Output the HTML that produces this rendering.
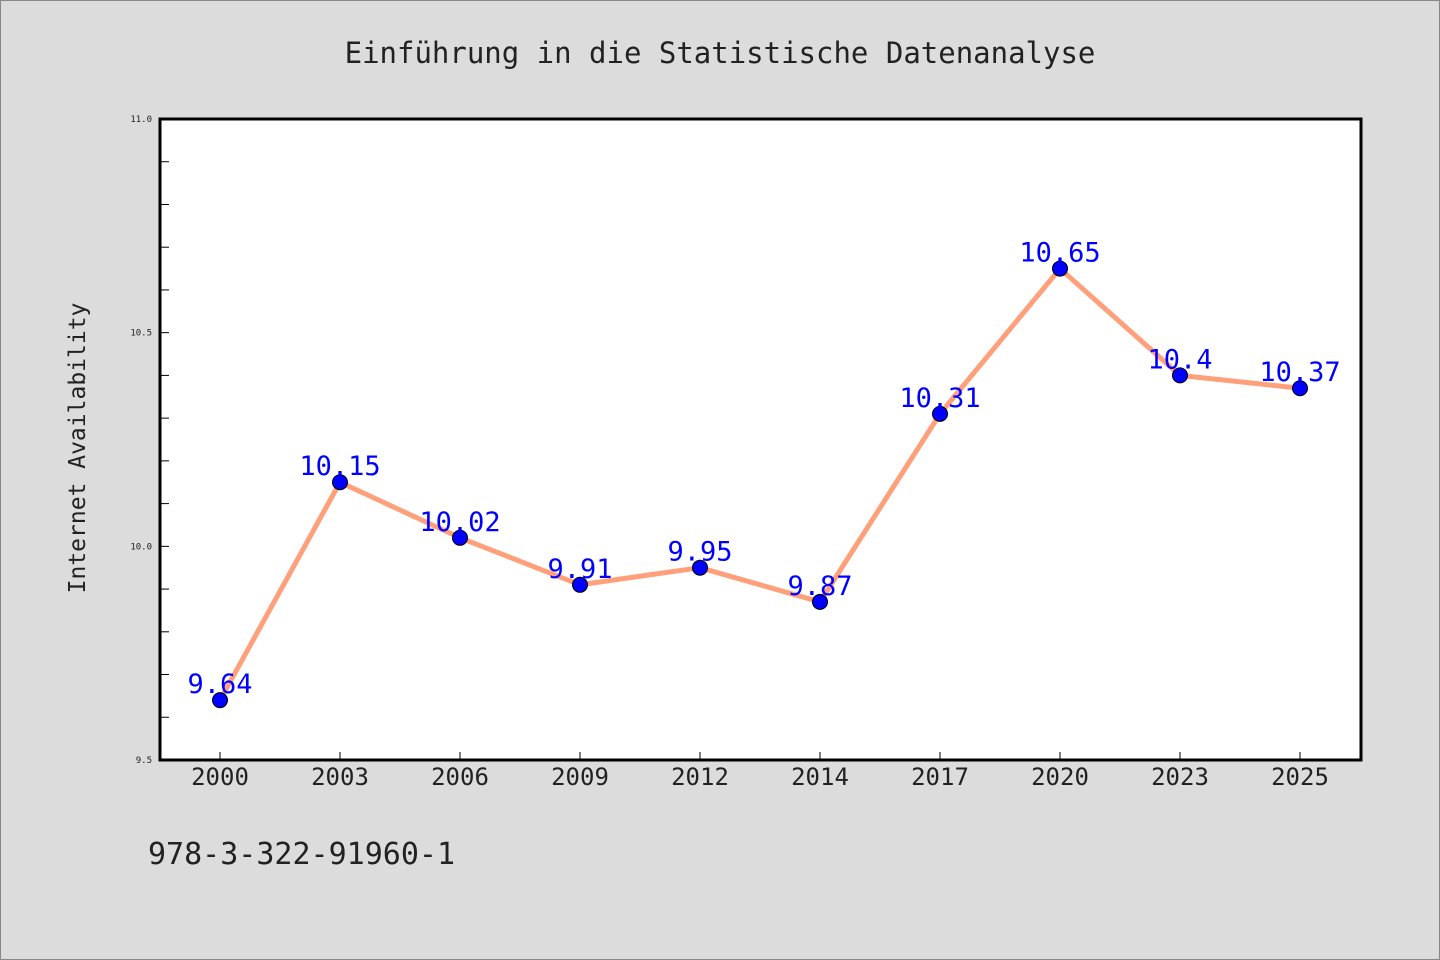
<!DOCTYPE html>
<html><head><meta charset="utf-8"><style>
body{margin:0;background:#dcdcdc;}
svg{display:block;font-family:"WenQuanYi Zen Hei Mono","WenQuanYi Zen Hei","DejaVu Sans Mono",monospace;}
</style></head><body>
<svg width="1440" height="960">
<rect x="0.5" y="0.5" width="1439" height="959" fill="#dcdcdc" stroke="#888"/>
<text x="720" y="63" font-size="29" text-anchor="middle" fill="#222">Einführung in die Statistische Datenanalyse</text>
<rect x="160" y="119" width="1201" height="641" fill="#fff"/>
<g id="axes"></g>
<g id="series"></g>
<rect x="160" y="119" width="1201" height="641" fill="none" stroke="#000" stroke-width="3"/>
<text transform="translate(85,448) rotate(-90)" font-size="23" text-anchor="middle" fill="#222">Internet Availability</text>
<text x="148" y="864" font-size="30" fill="#222">978-3-322-91960-1</text>
</svg>
<script>
const categories=["2000","2003","2006","2009","2012","2014","2017","2020","2023","2025"];
const values=[9.64,10.15,10.02,9.91,9.95,9.87,10.31,10.65,10.4,10.37];
const yTickLabels=["9.5","10.0","10.5","11.0"];
const yMin=9.5,yMax=11.0;
const NS="http://www.w3.org/2000/svg";
const L=160,R=1361,T=119,B=760;
const x=i=>220+i*((1300-220)/(categories.length-1));
const y=v=>B-(v-yMin)/(yMax-yMin)*(B-T);
function mk(tag,attrs,parent){const e=document.createElementNS(NS,tag);for(const k in attrs)e.setAttribute(k,attrs[k]);parent.appendChild(e);return e;}
const ax=document.getElementById('axes'),se=document.getElementById('series');
for(let k=0;k<=15;k++){const v=yMin+k*0.1;const t=mk('line',{x1:L,x2:L+9,y1:y(v),y2:y(v),stroke:'#000','stroke-width':1},ax);

}
yTickLabels.forEach(s=>{const t=mk('text',{x:152,y:y(parseFloat(s))+3,'font-size':9,'text-anchor':'end',fill:'#222'},ax);t.textContent=s;

});
categories.forEach((c,i)=>{const t=mk('line',{x1:x(i),x2:x(i),y1:B,y2:B-8,stroke:'#000','stroke-width':1},ax);


const l=mk('text',{x:x(i),y:785,'font-size':24,'text-anchor':'middle',fill:'#222'},ax);l.textContent=c;

});
const line=mk('polyline',{points:values.map((v,i)=>x(i)+','+y(v)).join(' '),fill:'none',stroke:'#ffa07a','stroke-width':5,'stroke-linejoin':'round'},se);


values.forEach((v,i)=>{const p=mk('circle',{cx:x(i),cy:y(v),r:7.5,fill:'#0000ff',stroke:'#000','stroke-width':1},se);


const t=mk('text',{x:x(i),y:y(v)-7,'font-size':27,'text-anchor':'middle',fill:'#0000ff'},se);t.textContent=String(v);

});
</script>
</body></html>
